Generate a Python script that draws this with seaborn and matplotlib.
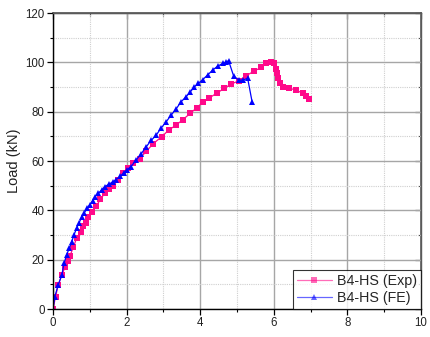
import matplotlib
matplotlib.use("Agg")
import matplotlib.pyplot as plt
from matplotlib.ticker import MultipleLocator
import seaborn as sns
import pandas as pd

# ---- data ----
exp_x = [0, 0.07, 0.14, 0.24, 0.33, 0.40, 0.46, 0.55, 0.64, 0.75, 0.82, 0.89, 0.96,
         1.05, 1.18, 1.29, 1.41, 1.52, 1.63, 1.77, 1.91, 2.04, 2.18, 2.36, 2.54,
         2.72, 2.95, 3.15, 3.35, 3.53, 3.73, 3.90, 4.07, 4.25, 4.45, 4.66, 4.84,
         5.05, 5.24, 5.45, 5.66, 5.80, 5.93, 6.00, 6.05, 6.09, 6.11, 6.16, 6.25,
         6.41, 6.61, 6.78, 6.88, 6.96]
exp_y = [0, 5, 9.7, 13.8, 17.1, 19.5, 21.5, 25, 28.6, 31.3, 33.5, 35, 37.5,
         39.5, 41.8, 44.5, 47, 48.5, 50, 52.3, 55, 57, 59, 61, 64,
         67, 69.8, 72.6, 74.6, 76.8, 79.3, 81.5, 83.8, 85.6, 87.5, 89.5, 91.2,
         92.5, 94.5, 96.3, 98.0, 99.7, 100.2, 99.8, 97.2, 95.5, 93.8, 91.7, 89.9,
         89.5, 88.8, 87.4, 86.3, 85.2]

fe_x = [0, 0.05, 0.14, 0.24, 0.30, 0.37, 0.44, 0.51, 0.57, 0.64, 0.71, 0.78, 0.85,
        0.93, 1.00, 1.08, 1.14, 1.23, 1.32, 1.41, 1.53, 1.63, 1.72, 1.82, 1.92,
        2.00, 2.12, 2.26, 2.40, 2.53, 2.67, 2.80, 2.93, 3.07, 3.21, 3.35, 3.48,
        3.62, 3.73, 3.84, 3.95, 4.07, 4.21, 4.35, 4.48, 4.62, 4.70, 4.77, 4.91,
        5.05, 5.16, 5.29, 5.41]
fe_y = [0, 5, 9.7, 13.8, 18.5, 21.9, 24.6, 27.3, 30, 32.7, 35, 37.2, 39,
        40.8, 42.2, 43.9, 45.5, 46.9, 48.2, 49.6, 50.7, 51.6, 52.5, 53.8, 55.0,
        56.3, 57.7, 60.4, 63, 65.7, 68.4, 70.4, 73.2, 75.8, 78.6, 81.2, 84,
        86.1, 88, 90, 91.5, 93, 95, 97, 98.5, 99.6, 100, 100.7, 94.4,
        92.8, 92.8, 93.5, 84.0]

labels = ["B4-HS (Exp)", "B4-HS (FE)"]
x_ticks = [0, 2, 4, 6, 8, 10]
y_ticks = [0, 20, 40, 60, 80, 100, 120]

df = pd.concat([
    pd.DataFrame({"Displacement": exp_x, "Load": exp_y, "series": labels[0]}),
    pd.DataFrame({"Displacement": fe_x, "Load": fe_y, "series": labels[1]}),
], ignore_index=True)

sns.set_theme(style="white")
plt.rcParams["font.family"] = ["Liberation Sans", "DejaVu Sans"]

fig = plt.figure(figsize=(4.30, 3.37), dpi=100)
ax = fig.add_axes([53 / 430, 1 - 309 / 337, (421 - 53) / 430, (309 - 13) / 337])

sns.lineplot(data=df, x="Displacement", y="Load", hue="series", style="series",
             markers={labels[0]: "s", labels[1]: "^"}, dashes=False,
             palette={labels[0]: "#FF0A8A", labels[1]: "#0000FF"},
             sort=False, estimator=None, linewidth=0.9, markersize=4.3,
             markeredgewidth=0, ax=ax)

ax.set_xlim(0, 10)
ax.set_ylim(0, 120)
ax.set_xticks(x_ticks)
ax.set_yticks(y_ticks)
ax.xaxis.set_minor_locator(MultipleLocator(1))
ax.yaxis.set_minor_locator(MultipleLocator(10))
ax.set_xlabel("")
ax.set_ylabel("Load (kN)", fontsize=10.5, color="#222222", labelpad=3)

ax.grid(which="major", color="#a6a6a6", linewidth=1.0, linestyle="-")
ax.grid(which="minor", color="#cfcfcf", linewidth=0.8, linestyle=(0, (1, 1)))
ax.set_axisbelow(True)

for s in ["left", "bottom"]:
    ax.spines[s].set_color("black")
    ax.spines[s].set_linewidth(1.0)
for s in ["top", "right"]:
    ax.spines[s].set_color("#5a5a5a")
    ax.spines[s].set_linewidth(1.0)
    ax.spines[s].set_visible(True)

ax.tick_params(which="major", direction="out", length=4, width=0.9, color="black",
               labelsize=8.3, labelcolor="#222222", left=True, bottom=True, pad=2)
ax.tick_params(which="minor", direction="out", length=2, width=0.8, color="black",
               left=True, bottom=True)

# top/right inward ticks
secx = ax.secondary_xaxis("top")
secx.set_xticks(x_ticks)
secx.xaxis.set_minor_locator(MultipleLocator(1))
secx.tick_params(which="major", direction="in", length=4, width=0.9, color="#444444",
                 labeltop=False)
secx.tick_params(which="minor", direction="in", length=2, width=0.8, color="#444444")
secx.spines["top"].set_color("#5a5a5a")
secy = ax.secondary_yaxis("right")
secy.set_yticks(y_ticks)
secy.yaxis.set_minor_locator(MultipleLocator(10))
secy.tick_params(which="major", direction="in", length=4, width=0.9, color="#444444",
                 labelright=False)
secy.tick_params(which="minor", direction="in", length=2, width=0.8, color="#444444")
secy.spines["right"].set_color("#5a5a5a")

leg = ax.legend(loc="lower right", frameon=True, fancybox=False, fontsize=10.3,
                borderaxespad=0, handlelength=2.4, handletextpad=0.35,
                borderpad=0.3, labelspacing=0.2, title=None)
leg.get_frame().set_edgecolor("black")
leg.get_frame().set_linewidth(0.8)
for h in leg.legend_handles:
    h.set_alpha(0.6)

fig.savefig("out.png", dpi=100)
